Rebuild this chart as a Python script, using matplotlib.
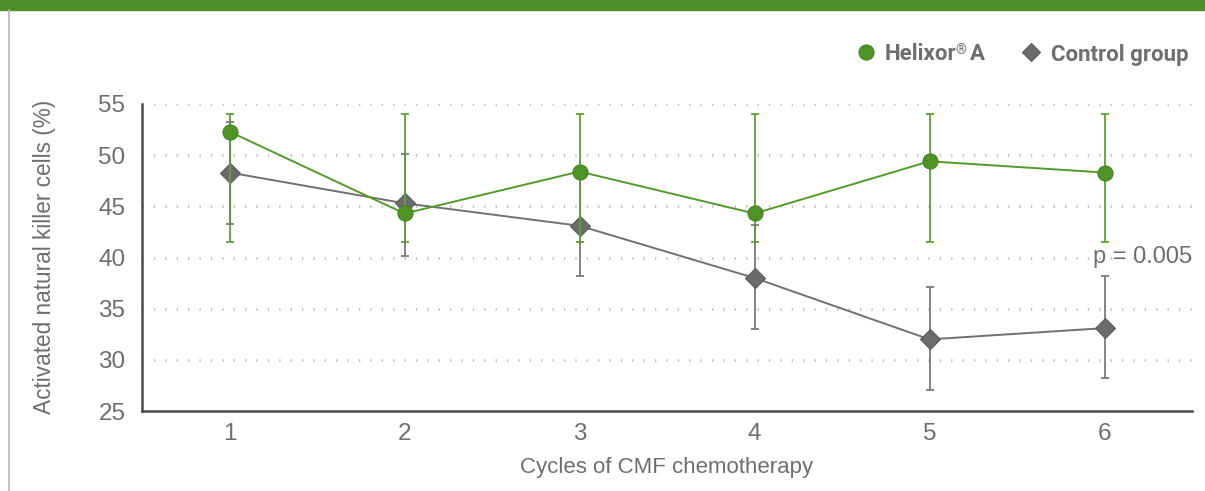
import matplotlib
matplotlib.use("Agg")
import matplotlib.pyplot as plt
from matplotlib.lines import Line2D
from matplotlib.patches import Rectangle

cycles = [1, 2, 3, 4, 5, 6]
helixor = [52.3, 44.3, 48.4, 44.3, 49.4, 48.3]
helixor_low = [41.5, 41.5, 41.5, 41.5, 41.5, 41.5]
helixor_high = [54.0, 54.0, 54.0, 54.0, 54.0, 54.0]
control = [48.3, 45.3, 43.1, 38.0, 32.0, 33.1]
control_low = [43.3, 40.1, 38.2, 33.0, 27.1, 28.2]
control_high = [53.2, 50.1, 48.1, 43.2, 37.1, 38.2]
yticks = [25, 30, 35, 40, 45, 50, 55]

GREEN = "#4f9226"
GREEN_BAR = "#5f9e3a"
GRAY = "#6b6b6b"
TXT = "#6e6e6e"
LEGFONT = ['Liberation Sans Narrow', 'Roboto', 'DejaVu Sans']

plt.rcParams['font.family'] = ['Liberation Sans', 'DejaVu Sans']

W, H = 1205, 491
fig = plt.figure(figsize=(W / 100, H / 100), dpi=100)
ax = fig.add_axes([142/W, 1-411/H, (1192-142)/W, (411-104)/H])

# header bar and left border
fig.patches.append(Rectangle((0, 1-10/H), 1, 10/H, transform=fig.transFigure,
                             color="#4e8f27", zorder=0))
fig.add_artist(Line2D([9/W, 9/W], [0, 1-10/H], transform=fig.transFigure,
                      color="#b5b5b5", lw=1.2))

def err(vals, lo, hi):
    return [[v - l for v, l in zip(vals, lo)], [h - v for v, h in zip(vals, hi)]]

ax.errorbar(cycles, control, yerr=err(control, control_low, control_high),
            fmt='none', ecolor="#7a7a7a", elinewidth=1.3, capsize=3, capthick=1.3, zorder=3)
ax.plot(cycles, control, color="#707070", lw=1.4, marker='D', markersize=10,
        markerfacecolor=GRAY, markeredgecolor="#5a5a5a", markeredgewidth=0.8, zorder=4)
ax.errorbar(cycles, helixor, yerr=err(helixor, helixor_low, helixor_high),
            fmt='none', ecolor=GREEN_BAR, elinewidth=1.3, capsize=3, capthick=1.3, zorder=5)
ax.plot(cycles, helixor, color="#55992c", lw=1.4, marker='o', markersize=11,
        markerfacecolor=GREEN, markeredgecolor="#3f7d1c", markeredgewidth=0.6, zorder=6)

ax.set_xlim(0.5, 6.5)
ax.set_ylim(25, 55)
ax.set_yticks(yticks)
ax.set_xticks(cycles)
ax.tick_params(length=0, labelsize=17.5, colors=TXT)
ax.tick_params(axis='y', pad=12)
ax.tick_params(axis='x', pad=9)
for s in ['top', 'right']:
    ax.spines[s].set_visible(False)
for s in ['left', 'bottom']:
    ax.spines[s].set_color("#4d4d4d")
    ax.spines[s].set_linewidth(1.8)
for y in yticks[1:]:
    ax.axhline(y, color="#c0c0c0", lw=2.0, linestyle=(0, (0.5, 3.6)), zorder=1)

fig.text(667/W, 1-468/H, "Cycles of CMF chemotherapy", fontsize=16, color=TXT,
         ha='center', va='center')
fig.text(45/W, 1-257/H, "Activated natural killer cells (%)", fontsize=16.3,
         color=TXT, ha='center', va='center', rotation=90)

ax.text(6.5, 40, "p = 0.005", fontsize=17, color=TXT, ha='right', va='center',
        zorder=7)

# legend (manual)
ly = 1 - 52/H
fig.add_artist(Line2D([866/W], [ly], transform=fig.transFigure, linestyle='none',
                      marker='o', markersize=11, markerfacecolor=GREEN,
                      markeredgecolor="#3f7d1c", markeredgewidth=0.6))
fig.add_artist(Line2D([1031/W], [ly], transform=fig.transFigure, linestyle='none',
                      marker='D', markersize=9, markerfacecolor=GRAY,
                      markeredgecolor="#5a5a5a", markeredgewidth=0.8))
lp = dict(family=LEGFONT, weight='bold', color=TXT)
t1 = fig.text(885/W, ly, "Helixor", fontsize=16, ha='left', va='center_baseline', **lp)
fig.text(1051/W, ly, "Control group", fontsize=16, ha='left', va='center_baseline', **lp)
ax.annotate("®", xy=(1, 1), xycoords=t1, xytext=(-1, 1), textcoords='offset pixels',
            ha='left', va='top', fontsize=10, annotation_clip=False, **lp)
ax.annotate("A", xy=(1, 0), xycoords=t1, xytext=(13, 0), textcoords='offset pixels',
            ha='left', va='bottom', fontsize=16, annotation_clip=False, **lp)

fig.savefig("out.png", dpi=100)
